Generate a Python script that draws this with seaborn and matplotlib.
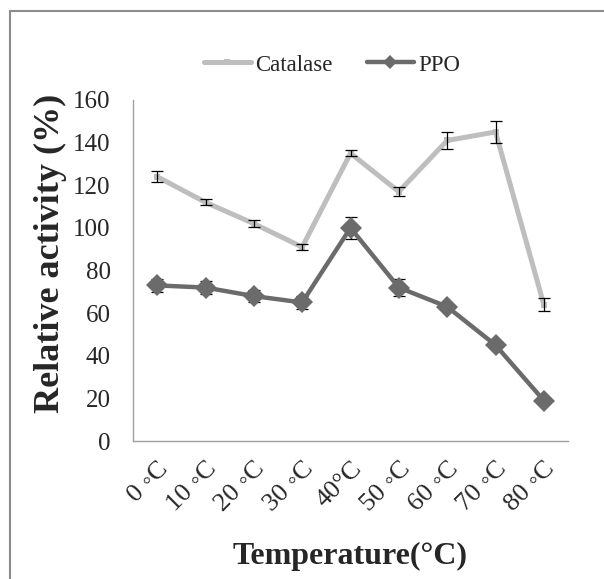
import matplotlib
matplotlib.use("Agg")
import matplotlib.pyplot as plt
import seaborn as sns
import pandas as pd
from matplotlib.patches import Rectangle
from matplotlib.lines import Line2D

categories = ["0 ◦C", "10 ◦C", "20 ◦C", "30 ◦C", "40°C", "50 ◦C", "60 ◦C", "70 ◦C", "80 ◦C"]
catalase = [124, 112, 102, 91, 135, 117, 141, 145, 64]
catalase_err = [2.5, 1.5, 1.5, 1.5, 1.5, 2, 4, 5, 3]
ppo = [73, 72, 68, 65, 100, 72, 63, 45, 19]
ppo_err = [3, 3, 3, 3, 5, 4, 1, 1, 1]

sns.set_style("white")
plt.rcParams["font.family"] = ["Liberation Serif", "DejaVu Serif"]

fig = plt.figure(figsize=(6.04, 5.79), dpi=100)
ax = fig.add_axes([133/604, 1-441/579, (568-133)/604, (441-100)/579])

pos = list(range(len(categories)))
df = pd.DataFrame({"pos": pos * 2,
                   "value": catalase + ppo,
                   "enzyme": ["Catalase"] * len(pos) + ["PPO"] * len(pos)})

c_cat = "#BEBEBE"
c_ppo = "#6B6B6B"

sns.lineplot(data=df[df.enzyme == "Catalase"], x="pos", y="value", ax=ax, color=c_cat,
             linewidth=3.6, marker="s", markersize=4, markeredgewidth=0, legend=False, zorder=2)
sns.lineplot(data=df[df.enzyme == "PPO"], x="pos", y="value", ax=ax, color=c_ppo,
             linewidth=3.2, marker="D", markersize=11, markeredgewidth=0, legend=False, zorder=2)

ax.errorbar(pos, catalase, yerr=catalase_err, fmt="none", ecolor="black", elinewidth=0.9,
            capsize=4.5, capthick=0.9, zorder=3)
ax.errorbar(pos, ppo, yerr=ppo_err, fmt="none", ecolor="black", elinewidth=0.9,
            capsize=4.5, capthick=0.9, zorder=1.5)

ax.set_xlim(-0.5, len(categories) - 0.5)
ax.set_ylim(0, 160)
ax.set_yticks(range(0, 161, 20))
ax.set_xticks([p - 0.5 for p in pos] + [len(pos) - 0.5], minor=False)
ax.set_xticklabels([""] * (len(pos) + 1))
ax.set_xticks(pos, minor=True)
ax.set_xticklabels(categories, minor=True, rotation=45, ha="right", va="top",
                   rotation_mode="anchor", fontsize=19)
ax.tick_params(axis="x", which="minor", length=0, pad=12)
ax.tick_params(axis="x", which="major", length=6, color="#A0A0A0", width=1, direction="out")
ax.tick_params(axis="y", length=6, color="#A0A0A0", width=1, direction="out", labelsize=18, pad=10)

for s in ["top", "right"]:
    ax.spines[s].set_visible(False)
for s in ["left", "bottom"]:
    ax.spines[s].set_color("#A0A0A0")
    ax.spines[s].set_linewidth(1)

ax.set_xlabel("Temperature(°C)", fontsize=23, fontweight="bold", labelpad=19)
ax.set_ylabel("Relative activity (%)", fontsize=26, fontweight="bold")
ax.yaxis.set_label_coords(-0.152, 0.551)

handles = [Line2D([], [], color=c_cat, linewidth=3.6, marker="s", markersize=4, markeredgewidth=0),
           Line2D([], [], color=c_ppo, linewidth=3.2, marker="D", markersize=7, markeredgewidth=0)]
fig.legend(handles, ["Catalase", "PPO"], loc="center", bbox_to_anchor=(332/604, 1-65/579),
           ncol=2, frameon=False, fontsize=16.5, handlelength=2.05, handletextpad=0.2,
           columnspacing=1.5)

fig.patches.append(Rectangle((10/604, -0.1), 1.2, 1 - 11/579 + 0.1, transform=fig.transFigure,
                             fill=False, edgecolor="#8C8C8C", linewidth=1.5))

fig.savefig("out.png", dpi=100)
